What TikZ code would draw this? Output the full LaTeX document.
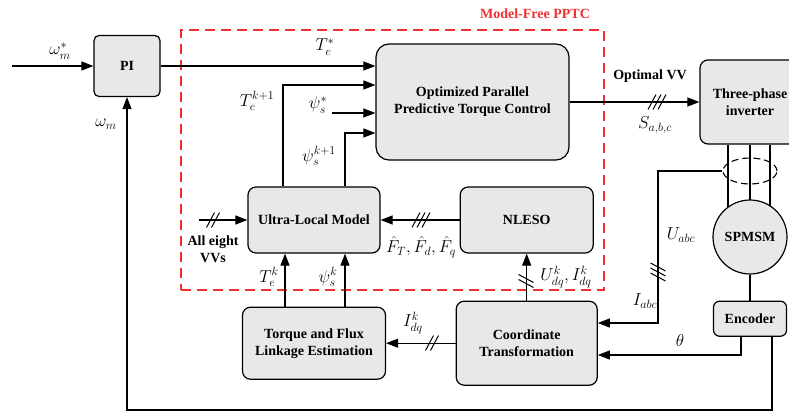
\documentclass[tikz,border=0pt]{standalone}
\usepackage{fontspec}
\setmainfont{Liberation Serif}
\usepackage{amsmath}
\usetikzlibrary{arrows.meta,positioning,shapes.geometric,backgrounds}
\definecolor{bx}{HTML}{E8E8E8}
\definecolor{frm}{HTML}{F03030}
\newcommand{\bfs}{\fontsize{14}{17}\selectfont\bfseries}
\newcommand{\mth}{\fontsize{17}{19}\selectfont}
\tikzset{
  box/.style={draw,line width=1.2pt,rounded corners=8pt,fill=bx,align=center,inner sep=2pt,font=\bfs},
  frame/.style={draw=frm,line width=1.4pt,dash pattern=on 10pt off 6pt},
  lbl/.style={inner sep=0pt,font=\mth},
  txt/.style={inner sep=0pt,align=center,font=\bfs},
  ar/.style={-{Triangle[length=12pt,width=9pt]},line width=1.1pt},
  ln/.style={line width=1.1pt},
  sl2/.pic={\draw[line width=1pt] (-6.5,7.5)--(1.5,-7.5) (-1.5,7.5)--(6.5,-7.5);},
  sl3/.pic={\draw[line width=1pt] (-9,7.5)--(-1,-7.5) (-4,7.5)--(4,-7.5) (1,7.5)--(9,-7.5);},
}

\begin{document}
\begin{tikzpicture}[x=1pt,y=-1pt]
  \useasboundingbox (0,0) rectangle (789,412);
  \clip (0,0) rectangle (789,412);

  % dashed frame of the model-free part
  \node[frame, minimum width=423pt, minimum height=260pt] (pptc) at (392.5,160) {};
  \node[txt, text=frm] (lttl) at (535,14) {Model-Free PPTC};

  % blocks
  \node[box, rounded corners=5pt, minimum width=66pt, minimum height=61pt] (pi) at (127,66) {PI};
  \node[box, rounded corners=13pt, minimum width=193pt, minimum height=116pt] (opptc) at (472.5,102)
    {Optimized Parallel\\Predictive Torque Control};
  \node[box, minimum width=132pt, minimum height=66pt] (ulm) at (314,220) {Ultra-Local Model};
  \node[box, minimum width=133pt, minimum height=66pt, right=79pt of ulm] (nleso) {NLESO};
  \node[box, minimum width=143pt, minimum height=72pt, below=53pt of ulm] (tfe)
    {Torque and Flux\\Linkage Estimation};
  \node[box, minimum width=141pt, minimum height=84pt, below=47pt of nleso] (ct)
    {Coordinate\\Transformation};
  \node[box, minimum width=100pt, minimum height=84pt] (inv) at (750,102) {Three-phase\\inverter};
  \node[box, circle, minimum size=74pt] (mot) at (750,237) {SPMSM};
  \node[box, rounded corners=6pt, minimum width=73pt, minimum height=35pt, below=26pt of mot] (enc) {Encoder};
  \node[draw, ellipse, line width=1.1pt, dash pattern=on 7pt off 4pt, minimum width=54pt, minimum height=26pt] (sens) at (750,171) {};

  % phase wires behind the motor
  \begin{scope}[on background layer]
    \draw[ln] ([xshift=-22pt]inv.south) -- ([xshift=-22pt]mot.center)
              (inv.south) -- (mot.center)
              ([xshift=20pt]inv.south) -- ([xshift=20pt]mot.center);
  \end{scope}

  % free ends and bends
  \coordinate (win) at (12,66);
  \coordinate (tkn) at (283,85);
  \coordinate (psr) at (332,113);
  \coordinate (psn) at (345,133);
  \coordinate (vvin) at (199,220);
  \coordinate (tek) at (285,0);
  \coordinate (tap) at (658,323);
  \coordinate (thn) at (741,355);
  \coordinate (fbn) at (772,410);

  % connectors
  \draw[ar] (win) -- (pi);
  \draw[ar] (pi) -- (pi -| opptc.west);
  \draw[ar] (ulm.north -| tkn) |- (opptc.west |- tkn);
  \draw[ar] (psr) -- (opptc.west |- psr);
  \draw[ar] (ulm.north -| psn) |- (opptc.west |- psn);
  \draw[ar] (opptc) -- (inv);
  \draw[ar] (vvin) -- (ulm);
  \draw[ar] (nleso) -- (ulm);
  \draw[ar] (tfe.north -| tek) -- (ulm.south -| tek);
  \draw[ar] (tfe.north -| psn) -- (ulm.south -| psn);
  \draw[ar] (ct.north) -- (ct.north |- nleso.south);
  \draw[ar] (ct) -- (tfe);
  \draw[ar] (sens.west) -| (tap) -- (tap -| ct.east);
  \draw[ln] (mot) -- (enc);
  \draw[ar] (enc.south -| thn) |- (ct.east |- thn);
  \draw[ar] (enc.south -| fbn) |- (pi.south |- fbn) -- (pi.south);

  % bus marks
  \pic at (657,102) {sl3};
  \pic at (213,220) {sl2};
  \pic at (421,220) {sl3};
  \pic[rotate=90] at (526,281) {sl2};
  \pic at (432,343) {sl2};
  \pic[rotate=90] at (658,272) {sl3};

  % signal labels
  \node[lbl] (lwr) at (60,51) {$\omega_m^*$};
  \node[lbl] (lwm) at (106,124) {$\omega_m$};
  \node[lbl] (lte) at (325,47) {$T_e^*$};
  \node[lbl] (ltn) at (257,101) {$T_e^{k+1}$};
  \node[lbl] (lpr) at (318,105) {$\psi_s^*$};
  \node[lbl] (lpn) at (319,156) {$\psi_s^{k+1}$};
  \node[txt] (lvv) at (650,76) {Optimal VV};
  \node[lbl] (lsw) at (655,125) {$S_{a,b,c}$};
  \node[txt] (lall) at (213,249) {All eight\\VVs};
  \node[lbl] (lf) at (421,247) {$\hat{F}_T,\hat{F}_d,\hat{F}_q$};
  \node[lbl] (ltk) at (269,277) {$T_e^k$};
  \node[lbl] (lpk) at (328,277) {$\psi_s^k$};
  \node[lbl] (lui) at (566,277) {$U_{dq}^k,I_{dq}^k$};
  \node[lbl] (lik) at (413,323) {$I_{dq}^k$};
  \node[lbl] (lua) at (681,235) {$U_{abc}$};
  \node[lbl] (lia) at (645,301) {$I_{abc}$};
  \node[lbl] (lth) at (680,340) {$\theta$};
\end{tikzpicture}
\end{document}
